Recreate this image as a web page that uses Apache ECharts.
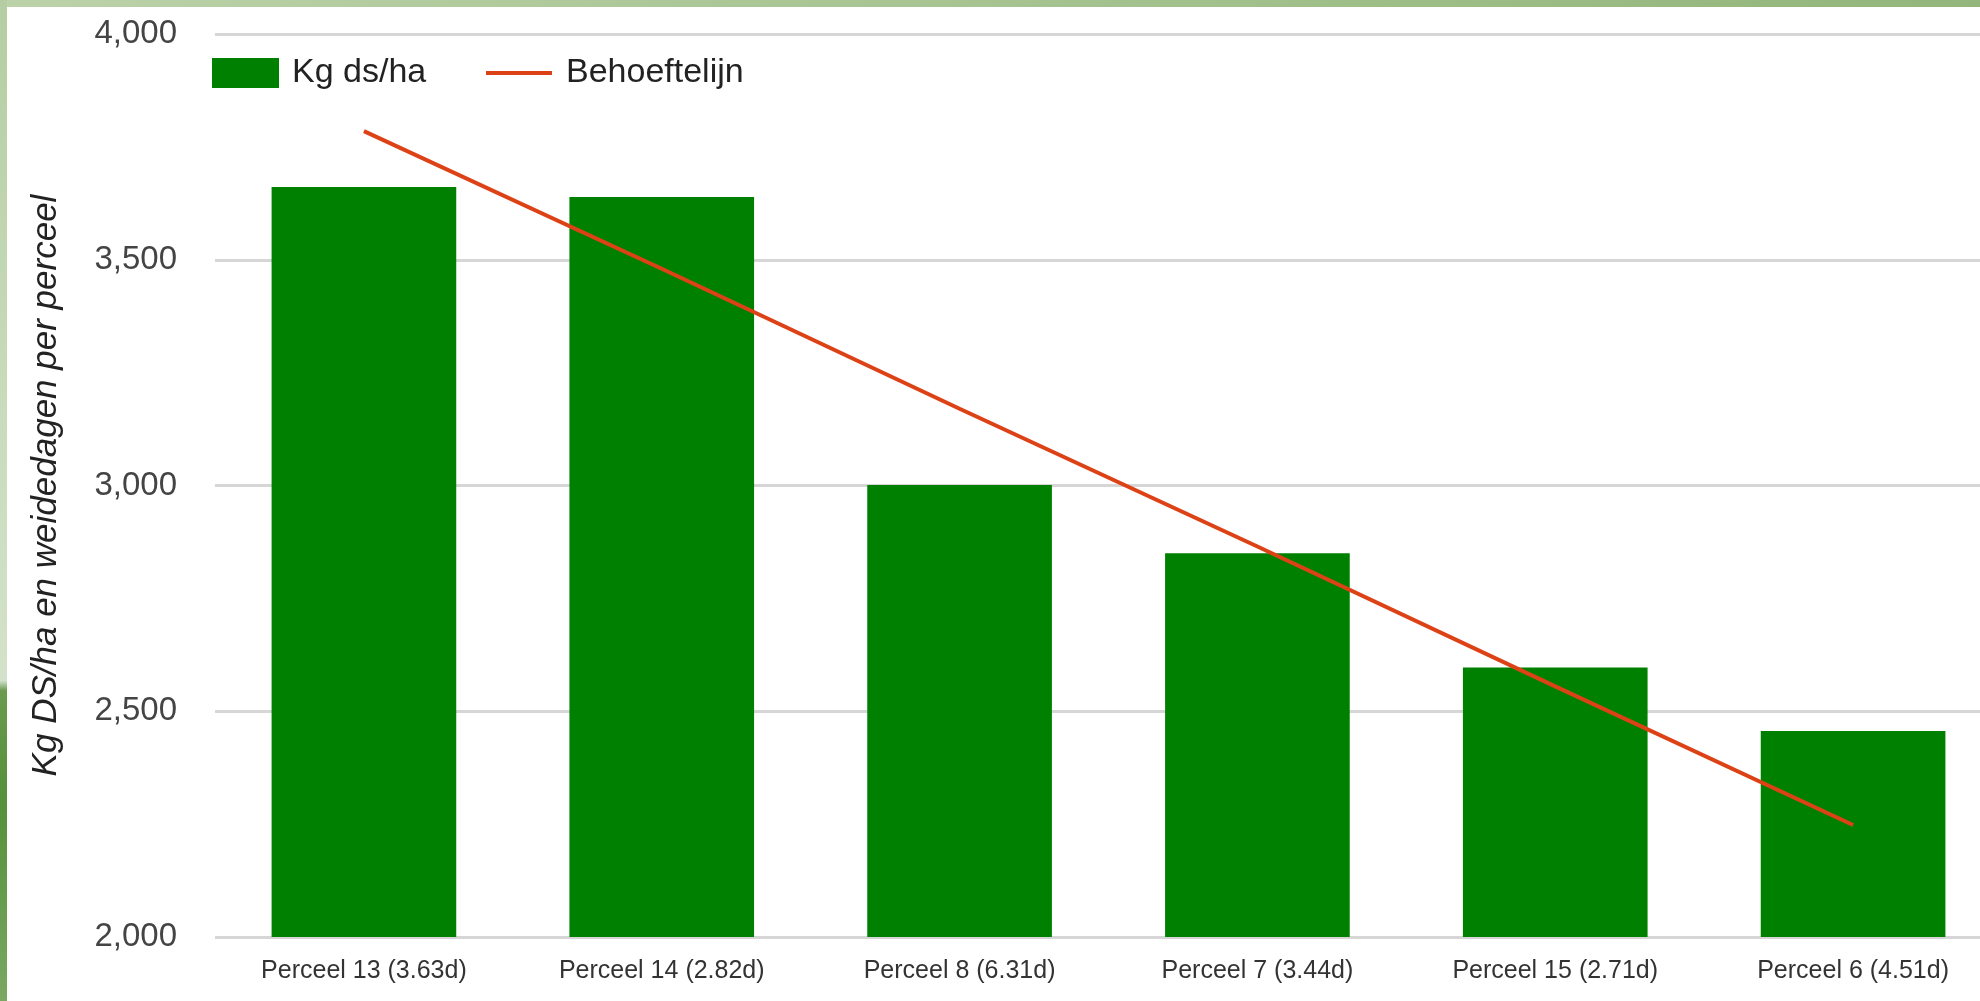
<!DOCTYPE html>
<html>
<head>
<meta charset="utf-8">
<script src="https://cdn.jsdelivr.net/npm/echarts@6/dist/echarts.min.js"></script>
<style>
  html, body { margin: 0; padding: 0; width: 1980px; height: 1001px; overflow: hidden; background: #ffffff; position: relative; }
  #topband { position: absolute; left: 0; top: 0; width: 1980px; height: 7px;
    background: linear-gradient(to right, #bcd2a9 0%, #aac695 40%, #92b67b 100%); }
  #leftband { position: absolute; left: 0; top: 0; width: 7px; height: 1001px;
    background: linear-gradient(to bottom, #b5cda2 0%, #c8dbbb 40%, #d3e2ca 68%, #6a9a4e 69%, #55903a 80%, #7aa862 100%); }
  #chart { position: absolute; left: 7px; top: 7px; width: 2010px; height: 994px; background: #ffffff; }
</style>
</head>
<body>
<div id="topband"></div>
<div id="leftband"></div>
<div id="chart"></div>
<script>
const categories = ['Perceel 13 (3.63d)', 'Perceel 14 (2.82d)', 'Perceel 8 (6.31d)', 'Perceel 7 (3.44d)', 'Perceel 15 (2.71d)', 'Perceel 6 (4.51d)'];
const kgDsHa = [3661, 3639, 3001, 2850, 2597, 2456];
const behoeftelijn = [3785, 3480, 3170, 2865, 2555, 2248];
const yTicks = [2000, 2500, 3000, 3500, 4000];

const chart = echarts.init(document.getElementById('chart'));
chart.setOption({
  animation: false,
  textStyle: { fontFamily: 'Liberation Sans, Arial, sans-serif' },
  grid: { left: 208, top: 27, width: 1787, height: 903, containLabel: false },
  legend: [
    {
      left: 205, top: 49, padding: 0,
      itemWidth: 67, itemHeight: 30,
      textStyle: { fontSize: 34, color: '#222222', padding: [0, 0, 0, 8] },
      data: [{ name: 'Kg ds/ha', icon: 'rect' }]
    },
    {
      left: 479, top: 49, padding: 0,
      itemWidth: 66, itemHeight: 4,
      textStyle: { fontSize: 34, color: '#222222', padding: [0, 0, 0, 9] },
      data: [{ name: 'Behoeftelijn', icon: 'rect' }]
    }
  ],
  xAxis: {
    type: 'category',
    data: categories,
    axisLine: { show: false },
    axisTick: { show: false },
    axisLabel: { fontSize: 25, color: '#333333', margin: 22, interval: 0 }
  },
  yAxis: {
    type: 'value',
    min: yTicks[0], max: yTicks[yTicks.length - 1], interval: 500,
    name: 'Kg DS/ha en weidedagen per perceel',
    nameLocation: 'middle', nameRotate: 90, nameGap: 151,
    nameTextStyle: { fontSize: 35, fontStyle: 'italic', color: '#222222' },
    axisLine: { show: false },
    axisTick: { show: false },
    axisLabel: {
      fontSize: 33, color: '#444444', margin: 38,
      formatter: v => v.toLocaleString('en-US')
    },
    splitLine: { show: true, lineStyle: { color: '#d6d6d6', width: 3 } }
  },
  series: [
    {
      name: 'Kg ds/ha', type: 'bar', data: kgDsHa, barWidth: '62%',
      itemStyle: { color: '#008000' }
    },
    {
      name: 'Behoeftelijn', type: 'line', data: behoeftelijn,
      symbol: 'none', showSymbol: false,
      lineStyle: { color: '#dd4216', width: 4 },
      itemStyle: { color: '#dd4216' },
      z: 5
    }
  ]
});
</script>
</body>
</html>
